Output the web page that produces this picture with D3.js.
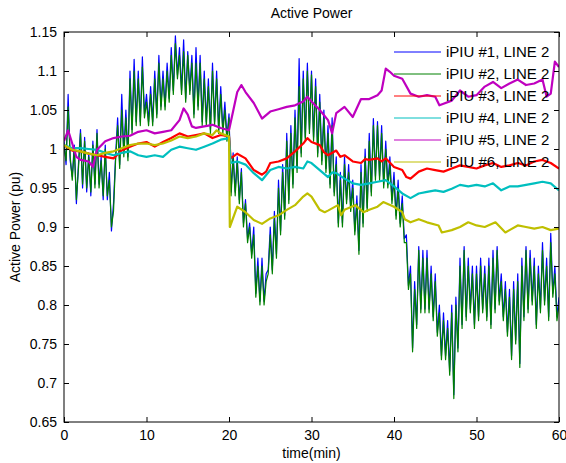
<!DOCTYPE html>
<html><head><meta charset="utf-8">
<style>
body { margin: 0; background: #fff; }
text { font-family: "Liberation Sans", Arial, sans-serif; fill: #000; }
.line { fill: none; stroke-linejoin: round; }
</style>
</head>
<body>
<svg width="566" height="463"></svg>
<script src="https://cdnjs.cloudflare.com/ajax/libs/d3/7.8.5/d3.min.js"></script>
<script>

var xTicks = [0, 10, 20, 30, 40, 50, 60];
var yTicks = [0.65, 0.7, 0.75, 0.8, 0.85, 0.9, 0.95, 1, 1.05, 1.1, 1.15];
var names = ["iPIU #1, LINE 2", "iPIU #2, LINE 2", "iPIU #3, LINE 2",
             "iPIU #4, LINE 2", "iPIU #5, LINE 2", "iPIU #6, LINE 2"];

// noisy series, one value every 0.25 min (4 per row)
var blue = [
  1.01, 0.98, 1.07, 0.985,  0.965, 1.005, 0.93, 0.98,  1.025, 0.95, 1.015, 0.945,
  0.995, 0.94, 1.01, 0.955,  1.025, 0.955, 0.99, 0.935,  1.005, 0.935, 0.97, 0.895,
  0.93, 0.99, 1.04, 0.98,  1.07, 0.995, 1.05, 0.99,  1.10, 1.025, 1.115, 1.035,
  1.10, 1.035, 1.118, 1.045,  1.07, 1.035, 1.08, 1.035,  1.10, 1.045, 1.12, 1.055,
  1.10, 1.055, 1.11, 1.065,  1.13, 1.075, 1.145, 1.095,  1.13, 1.075, 1.14, 1.065,
  1.125, 1.075, 1.12, 1.045,  1.13, 1.055, 1.12, 1.035,  1.10, 1.035, 1.09, 1.025,
  1.11, 1.035, 1.10, 1.025,  1.08, 1.025, 1.06, 1.015,  1.045, 0.945, 0.995, 0.945,
  0.99, 0.935, 0.975, 0.905,  0.935, 0.885, 0.905, 0.865,  0.90, 0.815, 0.86, 0.805,
  0.86, 0.805, 0.84, 0.845,  0.90, 0.845, 0.92, 0.865,  0.96, 0.895, 0.98, 0.915,
  1.02, 0.935, 1.03, 0.955,  1.05, 0.975, 1.116, 0.995,  1.10, 1.015, 1.11, 1.025,
  1.10, 1.015, 1.09, 0.995,  1.07, 0.985, 1.05, 0.975,  1.03, 0.955, 1.04, 0.945,
  0.99, 0.905, 0.97, 0.905,  0.99, 0.935, 0.98, 0.925,  0.96, 0.895, 0.94, 0.87,
  0.98, 0.905, 1.00, 0.925,  1.02, 0.945, 1.039, 0.965,  1.035, 0.965, 1.03, 0.955,
  1.01, 0.955, 0.99, 0.935,  0.97, 0.915, 0.96, 0.905,  0.94, 0.885, 0.89, 0.825,
  0.85, 0.745, 0.83, 0.775,  0.875, 0.795, 0.87, 0.795,  0.87, 0.795, 0.85, 0.785,
  0.84, 0.765, 0.80, 0.735,  0.79, 0.735, 0.78, 0.715,  0.80, 0.685, 0.81, 0.745,
  0.86, 0.775, 0.875, 0.785,  0.86, 0.795, 0.85, 0.775,  0.85, 0.785, 0.86, 0.795,
  0.85, 0.785, 0.86, 0.775,  0.87, 0.795, 0.875, 0.805,  0.84, 0.785, 0.83, 0.765,
  0.82, 0.735, 0.83, 0.755,  0.84, 0.725, 0.86, 0.785,  0.875, 0.795, 0.87, 0.805,
  0.86, 0.775, 0.85, 0.795,  0.88, 0.805, 0.86, 0.785,  0.892, 0.815, 0.85, 0.785,
  0.81
];

var green = [
  1.005, 0.985, 1.054, 0.99,  0.96, 1.0, 0.935, 0.975,  1.02, 0.955, 1.01, 0.95,
  0.99, 0.945, 1.005, 0.95,  1.02, 0.95, 0.985, 0.94,  1.0, 0.94, 0.96, 0.90,
  0.92, 0.985, 1.03, 0.975,  1.05, 0.99, 1.04, 0.985,  1.09, 1.02, 1.10, 1.03,
  1.09, 1.03, 1.105, 1.04,  1.06, 1.03, 1.07, 1.03,  1.09, 1.04, 1.11, 1.05,
  1.09, 1.05, 1.10, 1.06,  1.12, 1.07, 1.135, 1.09,  1.12, 1.07, 1.125, 1.06,
  1.12, 1.07, 1.11, 1.04,  1.11, 1.05, 1.11, 1.03,  1.09, 1.03, 1.08, 1.02,
  1.10, 1.03, 1.09, 1.02,  1.07, 1.02, 1.05, 1.01,  1.04, 0.94, 0.99, 0.94,
  0.985, 0.93, 0.97, 0.90,  0.93, 0.88, 0.90, 0.86,  0.89, 0.81, 0.85, 0.80,
  0.85, 0.80, 0.83, 0.84,  0.89, 0.84, 0.91, 0.86,  0.95, 0.89, 0.97, 0.91,
  1.01, 0.93, 1.02, 0.95,  1.04, 0.97, 1.08, 0.99,  1.09, 1.01, 1.10, 1.02,
  1.095, 1.01, 1.08, 0.99,  1.06, 0.98, 1.04, 0.97,  1.02, 0.95, 1.03, 0.94,
  0.98, 0.90, 0.96, 0.90,  0.98, 0.93, 0.97, 0.92,  0.95, 0.89, 0.93, 0.865,
  0.97, 0.90, 0.99, 0.92,  1.01, 0.94, 1.03, 0.96,  1.03, 0.96, 1.02, 0.95,
  1.00, 0.95, 0.98, 0.93,  0.96, 0.91, 0.95, 0.90,  0.93, 0.88, 0.88, 0.82,
  0.84, 0.74, 0.82, 0.77,  0.87, 0.79, 0.86, 0.79,  0.86, 0.79, 0.84, 0.78,
  0.83, 0.76, 0.79, 0.73,  0.78, 0.73, 0.77, 0.71,  0.79, 0.68, 0.80, 0.74,
  0.85, 0.77, 0.87, 0.78,  0.85, 0.79, 0.84, 0.77,  0.84, 0.78, 0.85, 0.79,
  0.84, 0.78, 0.85, 0.77,  0.86, 0.79, 0.87, 0.80,  0.83, 0.78, 0.82, 0.76,
  0.81, 0.73, 0.82, 0.75,  0.83, 0.72, 0.85, 0.78,  0.87, 0.79, 0.86, 0.80,
  0.85, 0.77, 0.84, 0.79,  0.87, 0.80, 0.85, 0.78,  0.88, 0.81, 0.84, 0.78,
  0.80
];

// smoother series as [time, value]
var red = [
  [0, 1.005], [1, 0.998], [2, 0.997], [3, 0.994], [4, 0.992], [5, 0.99], [6, 0.988],
  [7, 0.998], [8, 1.003], [9, 1.007], [10, 1.009], [11, 1.003], [12, 1.009], [13, 1.014],
  [14, 1.02], [15, 1.016], [16, 1.018], [17, 1.02], [18, 1.014], [19, 1.018], [20, 1.016],
  [20.2, 0.988], [21, 0.994], [22, 0.988], [23, 0.973], [24, 0.967], [24.5, 0.971],
  [25, 0.982], [26, 0.984], [27, 0.988], [28, 0.997], [29, 1.007], [29.5, 1.014],
  [30, 1.009], [31, 1.005], [31.5, 0.996], [32, 0.992], [33, 0.998], [33.5, 0.99], [34, 0.992],
  [35, 0.984], [36, 0.982], [36.5, 0.987], [37, 0.986], [38, 0.988], [38.5, 0.984], [39, 0.988],
  [40, 0.977], [41, 0.973], [41.5, 0.964], [42, 0.962], [43, 0.971], [44, 0.975], [45, 0.973],
  [46, 0.971], [47, 0.975], [48, 0.979], [49, 0.977], [50, 0.975], [51, 0.979], [52, 0.982],
  [53, 0.977], [54, 0.979], [55, 0.982], [56, 0.979], [57, 0.984], [58, 0.986], [59, 0.982],
  [60, 0.975]
];

var cyan = [
  [0, 1.005], [1, 1.001], [2, 1.001], [3, 1.0], [4, 0.999], [5, 0.995], [6, 0.992],
  [7, 0.995], [8, 0.997], [9, 0.992], [10, 0.99], [11, 0.992], [12, 0.99], [13, 0.999],
  [14, 1.003], [15, 1.001], [16, 0.999], [17, 1.003], [18, 1.007], [19, 1.012], [20, 1.014],
  [20.2, 0.982], [21, 0.984], [22, 0.98], [23, 0.969], [24, 0.96], [25, 0.973], [26, 0.977],
  [27, 0.975], [28, 0.977], [29, 0.975], [29.5, 0.984], [30, 0.982], [31, 0.973], [32, 0.964],
  [32.5, 0.97], [33, 0.969], [34, 0.962], [35, 0.956], [36, 0.954], [37, 0.956], [38, 0.958],
  [39, 0.96], [40, 0.952], [41, 0.943], [42, 0.937], [43, 0.943], [44, 0.945], [45, 0.947],
  [46, 0.945], [47, 0.949], [48, 0.954], [49, 0.952], [50, 0.954], [51, 0.952], [52, 0.956],
  [53, 0.947], [54, 0.952], [55, 0.952], [56, 0.954], [57, 0.956], [58, 0.958], [59, 0.956],
  [60, 0.947]
];

var magenta = [
  [0, 1.01], [0.5, 1.024], [1, 1.007], [1.5, 0.99], [2, 0.986], [3, 0.984], [3.5, 0.977],
  [4, 0.999], [5, 1.01], [6, 1.014], [7, 1.016], [8, 1.017], [9, 1.022], [10, 1.024],
  [11, 1.02], [12, 1.022], [13, 1.024], [14, 1.037], [14.5, 1.052], [15, 1.044], [15.5, 1.029],
  [16, 1.027], [17, 1.029], [18, 1.031], [19, 1.027], [20, 1.024], [21, 1.073], [21.5, 1.082],
  [22, 1.073], [23, 1.059], [24, 1.039], [25, 1.048], [26, 1.051], [27, 1.054], [28, 1.056],
  [29, 1.061], [29.5, 1.067], [30, 1.061], [31, 1.05], [32, 1.037], [32.5, 1.02], [33, 1.046],
  [34, 1.054], [35, 1.041], [36, 1.064], [37, 1.064], [38, 1.069], [38.5, 1.075], [39, 1.103],
  [39.5, 1.099], [40, 1.094], [41, 1.09], [42, 1.071], [43, 1.067], [44, 1.069], [45, 1.067],
  [45.5, 1.056], [46, 1.058], [47, 1.062], [48, 1.075], [49, 1.067], [50, 1.069], [51, 1.08],
  [52, 1.086], [53, 1.078], [54, 1.084], [55, 1.089], [56, 1.082], [57, 1.084], [58, 1.089],
  [58.5, 1.067], [59, 1.071], [59.5, 1.112], [60, 1.105]
];

var yellow = [
  [0, 1.005], [1, 0.999], [2, 0.997], [3, 0.994], [4, 0.992], [5, 0.995], [6, 0.997],
  [7, 1.001], [8, 1.005], [9, 1.007], [10, 1.007], [11, 1.005], [12, 1.007], [13, 1.011],
  [14, 1.016], [15, 1.014], [16, 1.016], [17, 1.02], [18, 1.018], [18.5, 1.024], [19, 1.02],
  [20, 1.016], [20.1, 0.9], [21, 0.926], [22, 0.919], [23, 0.909], [24, 0.904], [25, 0.911],
  [26, 0.915], [27, 0.922], [28, 0.928], [29, 0.939], [29.5, 0.943], [30, 0.939], [31, 0.922],
  [31.6, 0.919], [32, 0.921], [33.2, 0.928], [33.6, 0.915], [34, 0.922], [35.3, 0.928],
  [36.3, 0.919], [37, 0.922], [38, 0.926], [38.7, 0.932], [40, 0.926], [41, 0.919],
  [41.3, 0.91], [42, 0.906], [43, 0.91], [44, 0.906], [45.4, 0.902], [45.8, 0.893],
  [47, 0.896], [48, 0.9], [49, 0.906], [50, 0.902], [51, 0.9], [52.3, 0.906], [53.5, 0.893],
  [54, 0.896], [55, 0.902], [56, 0.9], [57, 0.898], [58, 0.9], [59, 0.896], [60, 0.898]
];

var colors = ["#0000ff", "#008000", "#ff0000", "#00bfbf", "#bf00bf", "#bfbf00"];

var svg = d3.select("svg"),
    margin = {top: 32, right: 7, bottom: 41, left: 64},
    width = svg.attr("width") - margin.left - margin.right,
    height = svg.attr("height") - margin.top - margin.bottom,
    g = svg.append("g").attr("transform", "translate(" + margin.left + "," + margin.top + ")");

var x = d3.scaleLinear().domain([0, 60]).range([0, width]),
    y = d3.scaleLinear().domain([0.65, 1.15]).range([height, 0]);

var line = d3.line()
    .x(function(d) { return x(d[0]); })
    .y(function(d) { return y(d[1]); });

function quarter(arr) {
  return arr.map(function(v, i) { return [i / 4, v]; });
}

var series = [
  { values: quarter(blue), w: 1.2 },
  { values: quarter(green), w: 1.2 },
  { values: red, w: 2.2 },
  { values: cyan, w: 2.2 },
  { values: magenta, w: 2.2 },
  { values: yellow, w: 2.2 }
];

g.append("clipPath").attr("id", "clip")
  .append("rect").attr("width", width).attr("height", height);

g.append("g").attr("clip-path", "url(#clip)")
  .selectAll("path")
  .data(series)
  .enter().append("path")
    .attr("class", "line")
    .attr("d", function(d) { return line(d.values); })
    .style("stroke", function(d, i) { return colors[i]; })
    .style("stroke-width", function(d) { return d.w; });

// axes, MATLAB style: ticks inside on all four sides
var tickLen = 5;
g.append("g")
    .attr("transform", "translate(0," + height + ")")
    .call(d3.axisBottom(x).tickValues(xTicks).tickSizeInner(-tickLen).tickSizeOuter(0).tickPadding(8));
g.append("g")
    .call(d3.axisTop(x).tickValues(xTicks).tickSizeInner(-tickLen).tickSizeOuter(0).tickFormat(""));
g.append("g")
    .call(d3.axisLeft(y).tickValues(yTicks).tickSizeInner(-tickLen).tickSizeOuter(0).tickPadding(7)
      .tickFormat(function(d) { return d3.format("")(+d.toFixed(2)); }));
g.append("g")
    .attr("transform", "translate(" + width + ",0)")
    .call(d3.axisRight(y).tickValues(yTicks).tickSizeInner(-tickLen).tickSizeOuter(0).tickFormat(""));

g.selectAll(".domain").remove();
g.selectAll(".tick line").attr("stroke", "#000");
g.selectAll(".tick text").style("font-size", "14px");

g.append("rect")
    .attr("width", width).attr("height", height)
    .attr("fill", "none").attr("stroke", "#000").attr("stroke-width", 1);

// legend, no box, drawn over the lines
var leg = g.selectAll(".leg")
  .data(names)
  .enter().append("g")
    .attr("class", "leg")
    .attr("transform", function(d, i) { return "translate(330," + (20 + i * 22) + ")"; });

leg.append("line")
    .attr("x1", 0).attr("x2", 47)
    .style("stroke", function(d, i) { return colors[i]; })
    .style("stroke-width", 1);

leg.append("text")
    .attr("x", 52)
    .attr("dy", "0.35em")
    .style("font-size", "15px")
    .text(function(d) { return d; });

svg.append("text")
    .attr("x", margin.left + width / 2)
    .attr("y", 18)
    .attr("text-anchor", "middle")
    .style("font-size", "14px")
    .text("Active Power");

svg.append("text")
    .attr("x", margin.left + width / 2)
    .attr("y", 458)
    .attr("text-anchor", "middle")
    .style("font-size", "14px")
    .text("time(min)");

svg.append("text")
    .attr("transform", "translate(20," + (margin.top + height / 2) + ") rotate(-90)")
    .attr("text-anchor", "middle")
    .style("font-size", "14px")
    .text("Active Power (pu)");

</script>
</body></html>
